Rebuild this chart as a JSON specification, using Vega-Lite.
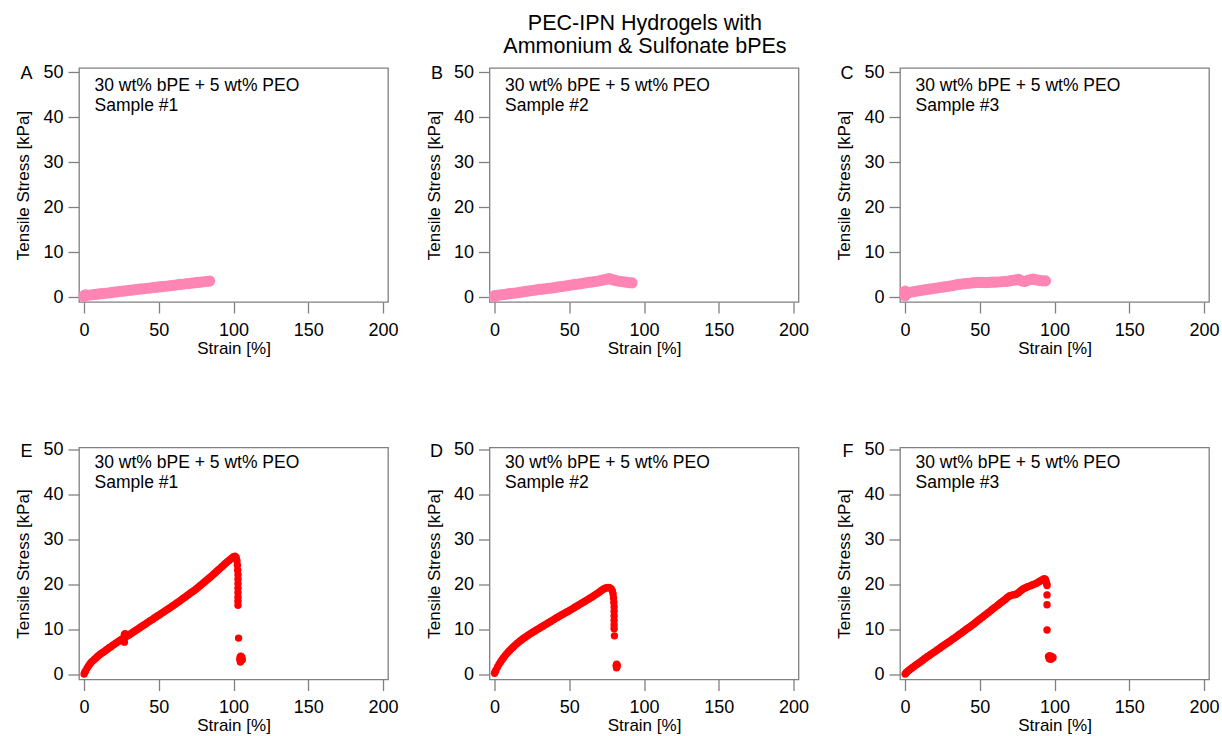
{
"$schema": "https://vega.github.io/schema/vega-lite/v6.json",
"background": "white",
"padding": {"top": 12, "left": 14, "right": 2, "bottom": 2},
"title": {"text": ["PEC-IPN Hydrogels with", "Ammonium & Sulfonate bPEs"], "fontSize": 21.5, "fontWeight": "normal", "font": "Liberation Sans", "color": "black", "anchor": "middle", "dx": 28, "lineHeight": 23, "offset": 5},
"config": {
  "font": "Liberation Sans",
  "view": {"stroke": "#808080", "strokeWidth": 1.3},
  "axis": {"domain": false, "grid": false, "tickColor": "#808080", "tickSize": 11, "tickWidth": 1.3, "labelFont": "Liberation Sans", "labelFontSize": 18, "labelColor": "black", "labelFlush": false, "labelOverlap": false, "titleFont": "Liberation Sans", "titleFontSize": 17, "titleFontWeight": "normal", "titleColor": "black"},
  "axisX": {"labelPadding": 8, "titlePadding": 1},
  "axisY": {"labelPadding": 5, "titlePadding": 10},
  "text": {"font": "Liberation Sans", "color": "black"}
},
"datasets": {
  "A": [{"strain":0,"stress":0.3},{"strain":0,"stress":0.1},{"strain":1,"stress":0.5},{"strain":2,"stress":0.4},{"strain":4,"stress":0.45},{"strain":6,"stress":0.55},{"strain":8,"stress":0.6},{"strain":10,"stress":0.7},{"strain":12,"stress":0.75},{"strain":14,"stress":0.85},{"strain":16,"stress":0.9},{"strain":18,"stress":1.0},{"strain":20,"stress":1.1},{"strain":22,"stress":1.15},{"strain":24,"stress":1.25},{"strain":26,"stress":1.3},{"strain":28,"stress":1.4},{"strain":30,"stress":1.5},{"strain":32,"stress":1.55},{"strain":34,"stress":1.65},{"strain":36,"stress":1.7},{"strain":38,"stress":1.8},{"strain":40,"stress":1.85},{"strain":42,"stress":1.95},{"strain":44,"stress":2.0},{"strain":46,"stress":2.1},{"strain":48,"stress":2.15},{"strain":50,"stress":2.25},{"strain":52,"stress":2.3},{"strain":54,"stress":2.4},{"strain":56,"stress":2.45},{"strain":58,"stress":2.55},{"strain":60,"stress":2.6},{"strain":62,"stress":2.7},{"strain":64,"stress":2.8},{"strain":66,"stress":2.85},{"strain":68,"stress":2.95},{"strain":70,"stress":3.0},{"strain":72,"stress":3.1},{"strain":74,"stress":3.15},{"strain":76,"stress":3.25},{"strain":78,"stress":3.3},{"strain":80,"stress":3.4},{"strain":82,"stress":3.45},{"strain":84,"stress":3.55}],
  "B": [{"strain":0,"stress":0.3},{"strain":0,"stress":0.1},{"strain":2,"stress":0.4},{"strain":4,"stress":0.5},{"strain":6,"stress":0.55},{"strain":8,"stress":0.65},{"strain":10,"stress":0.75},{"strain":12,"stress":0.85},{"strain":14,"stress":0.9},{"strain":16,"stress":1.0},{"strain":18,"stress":1.1},{"strain":20,"stress":1.2},{"strain":22,"stress":1.3},{"strain":24,"stress":1.4},{"strain":26,"stress":1.5},{"strain":28,"stress":1.6},{"strain":30,"stress":1.7},{"strain":32,"stress":1.75},{"strain":34,"stress":1.85},{"strain":36,"stress":1.95},{"strain":38,"stress":2.0},{"strain":40,"stress":2.1},{"strain":42,"stress":2.2},{"strain":44,"stress":2.3},{"strain":46,"stress":2.4},{"strain":48,"stress":2.5},{"strain":50,"stress":2.6},{"strain":52,"stress":2.7},{"strain":54,"stress":2.8},{"strain":56,"stress":2.9},{"strain":58,"stress":3.0},{"strain":60,"stress":3.1},{"strain":62,"stress":3.2},{"strain":64,"stress":3.3},{"strain":66,"stress":3.4},{"strain":68,"stress":3.5},{"strain":70,"stress":3.6},{"strain":72,"stress":3.75},{"strain":74,"stress":3.9},{"strain":76,"stress":4.05},{"strain":77,"stress":4.1},{"strain":78,"stress":3.95},{"strain":80,"stress":3.75},{"strain":82,"stress":3.6},{"strain":84,"stress":3.5},{"strain":86,"stress":3.4},{"strain":88,"stress":3.3},{"strain":90,"stress":3.2},{"strain":92,"stress":3.15}],
  "C": [{"strain":0,"stress":0.3},{"strain":0,"stress":0.8},{"strain":0,"stress":1.3},{"strain":1,"stress":1.0},{"strain":2,"stress":1.0},{"strain":4,"stress":1.1},{"strain":6,"stress":1.2},{"strain":8,"stress":1.35},{"strain":10,"stress":1.45},{"strain":12,"stress":1.55},{"strain":14,"stress":1.65},{"strain":16,"stress":1.75},{"strain":18,"stress":1.85},{"strain":20,"stress":1.95},{"strain":22,"stress":2.05},{"strain":24,"stress":2.15},{"strain":26,"stress":2.25},{"strain":28,"stress":2.35},{"strain":30,"stress":2.45},{"strain":32,"stress":2.55},{"strain":34,"stress":2.7},{"strain":36,"stress":2.8},{"strain":38,"stress":2.9},{"strain":40,"stress":3.0},{"strain":42,"stress":3.05},{"strain":44,"stress":3.1},{"strain":46,"stress":3.2},{"strain":48,"stress":3.25},{"strain":50,"stress":3.25},{"strain":52,"stress":3.25},{"strain":54,"stress":3.2},{"strain":56,"stress":3.25},{"strain":58,"stress":3.3},{"strain":60,"stress":3.3},{"strain":62,"stress":3.35},{"strain":64,"stress":3.4},{"strain":66,"stress":3.45},{"strain":68,"stress":3.5},{"strain":70,"stress":3.6},{"strain":72,"stress":3.7},{"strain":74,"stress":3.8},{"strain":76,"stress":3.95},{"strain":78,"stress":3.6},{"strain":80,"stress":3.45},{"strain":82,"stress":3.7},{"strain":84,"stress":3.9},{"strain":86,"stress":4.0},{"strain":88,"stress":3.8},{"strain":90,"stress":3.7},{"strain":92,"stress":3.6},{"strain":94,"stress":3.6}],
  "E": [{"strain":0,"stress":0.1},{"strain":0.5,"stress":0.5},{"strain":1,"stress":0.8},{"strain":2,"stress":1.4},{"strain":3,"stress":1.9},{"strain":4,"stress":2.4},{"strain":5,"stress":2.8},{"strain":6,"stress":3.1},{"strain":7,"stress":3.4},{"strain":8,"stress":3.7},{"strain":9,"stress":4.0},{"strain":10,"stress":4.3},{"strain":11,"stress":4.55},{"strain":12,"stress":4.8},{"strain":13,"stress":5.0},{"strain":14,"stress":5.25},{"strain":15,"stress":5.5},{"strain":16,"stress":5.75},{"strain":17,"stress":6.0},{"strain":18,"stress":6.2},{"strain":19,"stress":6.45},{"strain":20,"stress":6.7},{"strain":21,"stress":6.9},{"strain":22,"stress":7.15},{"strain":23,"stress":7.35},{"strain":24,"stress":7.6},{"strain":25,"stress":7.8},{"strain":26,"stress":8.0},{"strain":27,"stress":7.2},{"strain":27,"stress":8.2},{"strain":27,"stress":8.9},{"strain":27.5,"stress":9.1},{"strain":28,"stress":8.4},{"strain":29,"stress":8.6},{"strain":30,"stress":8.8},{"strain":31,"stress":9.0},{"strain":32,"stress":9.25},{"strain":33,"stress":9.45},{"strain":34,"stress":9.7},{"strain":35,"stress":9.9},{"strain":36,"stress":10.1},{"strain":37,"stress":10.35},{"strain":38,"stress":10.55},{"strain":39,"stress":10.8},{"strain":40,"stress":11.0},{"strain":41,"stress":11.2},{"strain":42,"stress":11.45},{"strain":43,"stress":11.65},{"strain":44,"stress":11.9},{"strain":45,"stress":12.1},{"strain":46,"stress":12.3},{"strain":47,"stress":12.55},{"strain":48,"stress":12.75},{"strain":49,"stress":13.0},{"strain":50,"stress":13.2},{"strain":51,"stress":13.4},{"strain":52,"stress":13.65},{"strain":53,"stress":13.85},{"strain":54,"stress":14.1},{"strain":55,"stress":14.3},{"strain":56,"stress":14.5},{"strain":57,"stress":14.75},{"strain":58,"stress":14.95},{"strain":59,"stress":15.2},{"strain":60,"stress":15.4},{"strain":61,"stress":15.65},{"strain":62,"stress":15.9},{"strain":63,"stress":16.1},{"strain":64,"stress":16.35},{"strain":65,"stress":16.6},{"strain":66,"stress":16.85},{"strain":67,"stress":17.1},{"strain":68,"stress":17.3},{"strain":69,"stress":17.55},{"strain":70,"stress":17.8},{"strain":71,"stress":18.05},{"strain":72,"stress":18.3},{"strain":73,"stress":18.5},{"strain":74,"stress":18.75},{"strain":75,"stress":19.0},{"strain":76,"stress":19.3},{"strain":77,"stress":19.55},{"strain":78,"stress":19.85},{"strain":79,"stress":20.1},{"strain":80,"stress":20.4},{"strain":81,"stress":20.7},{"strain":82,"stress":20.95},{"strain":83,"stress":21.25},{"strain":84,"stress":21.5},{"strain":85,"stress":21.8},{"strain":86,"stress":22.1},{"strain":87,"stress":22.4},{"strain":88,"stress":22.7},{"strain":89,"stress":23.0},{"strain":90,"stress":23.3},{"strain":91,"stress":23.6},{"strain":92,"stress":23.9},{"strain":93,"stress":24.2},{"strain":94,"stress":24.5},{"strain":95,"stress":24.8},{"strain":96,"stress":25.1},{"strain":97,"stress":25.35},{"strain":98,"stress":25.65},{"strain":99,"stress":25.9},{"strain":100,"stress":26.2},{"strain":101,"stress":26.3},{"strain":101.8,"stress":26.0},{"strain":102.3,"stress":25.3},{"strain":102.6,"stress":24.3},{"strain":102.8,"stress":23.2},{"strain":103,"stress":22.2},{"strain":103,"stress":21.2},{"strain":103,"stress":20.2},{"strain":103,"stress":19.2},{"strain":103,"stress":18.2},{"strain":103,"stress":17.2},{"strain":103,"stress":16.3},{"strain":103,"stress":15.4},{"strain":103.4,"stress":8.1},{"strain":104.2,"stress":3.4},{"strain":104.5,"stress":3.9},{"strain":104.8,"stress":3.0},{"strain":105,"stress":4.1},{"strain":105.3,"stress":3.5},{"strain":105.6,"stress":3.8},{"strain":105.9,"stress":3.3},{"strain":104.6,"stress":2.8}],
  "D": [{"strain":0,"stress":0.3},{"strain":0.5,"stress":0.7},{"strain":1,"stress":1.0},{"strain":2,"stress":1.7},{"strain":3,"stress":2.3},{"strain":4,"stress":2.8},{"strain":5,"stress":3.3},{"strain":6,"stress":3.75},{"strain":7,"stress":4.2},{"strain":8,"stress":4.6},{"strain":9,"stress":4.95},{"strain":10,"stress":5.3},{"strain":11,"stress":5.65},{"strain":12,"stress":5.95},{"strain":13,"stress":6.3},{"strain":14,"stress":6.6},{"strain":15,"stress":6.9},{"strain":16,"stress":7.15},{"strain":17,"stress":7.45},{"strain":18,"stress":7.7},{"strain":19,"stress":7.95},{"strain":20,"stress":8.2},{"strain":21,"stress":8.4},{"strain":22,"stress":8.65},{"strain":23,"stress":8.85},{"strain":24,"stress":9.1},{"strain":25,"stress":9.3},{"strain":26,"stress":9.5},{"strain":27,"stress":9.7},{"strain":28,"stress":9.9},{"strain":29,"stress":10.1},{"strain":30,"stress":10.3},{"strain":31,"stress":10.5},{"strain":32,"stress":10.7},{"strain":33,"stress":10.9},{"strain":34,"stress":11.1},{"strain":35,"stress":11.3},{"strain":36,"stress":11.5},{"strain":37,"stress":11.7},{"strain":38,"stress":11.9},{"strain":39,"stress":12.1},{"strain":40,"stress":12.3},{"strain":41,"stress":12.5},{"strain":42,"stress":12.7},{"strain":43,"stress":12.9},{"strain":44,"stress":13.1},{"strain":45,"stress":13.3},{"strain":46,"stress":13.45},{"strain":47,"stress":13.65},{"strain":48,"stress":13.85},{"strain":49,"stress":14.0},{"strain":50,"stress":14.2},{"strain":51,"stress":14.4},{"strain":52,"stress":14.6},{"strain":53,"stress":14.8},{"strain":54,"stress":15.0},{"strain":55,"stress":15.2},{"strain":56,"stress":15.4},{"strain":57,"stress":15.6},{"strain":58,"stress":15.8},{"strain":59,"stress":16.0},{"strain":60,"stress":16.2},{"strain":61,"stress":16.4},{"strain":62,"stress":16.6},{"strain":63,"stress":16.8},{"strain":64,"stress":17.0},{"strain":65,"stress":17.2},{"strain":66,"stress":17.4},{"strain":67,"stress":17.65},{"strain":68,"stress":17.85},{"strain":69,"stress":18.05},{"strain":70,"stress":18.3},{"strain":71,"stress":18.55},{"strain":72,"stress":18.8},{"strain":73,"stress":19.0},{"strain":74,"stress":19.2},{"strain":75,"stress":19.3},{"strain":76,"stress":19.35},{"strain":77,"stress":19.3},{"strain":78,"stress":19.1},{"strain":78.8,"stress":18.6},{"strain":79.3,"stress":17.9},{"strain":79.6,"stress":17.0},{"strain":79.8,"stress":16.0},{"strain":80,"stress":15.0},{"strain":80,"stress":14.0},{"strain":80,"stress":13.0},{"strain":80,"stress":12.0},{"strain":80,"stress":11.0},{"strain":80,"stress":10.2},{"strain":80.2,"stress":8.6},{"strain":81.4,"stress":2.0},{"strain":81.8,"stress":1.7},{"strain":82.1,"stress":2.0},{"strain":81.7,"stress":2.3},{"strain":81.6,"stress":1.5}],
  "F": [{"strain":0,"stress":0.1},{"strain":0.5,"stress":0.3},{"strain":1,"stress":0.5},{"strain":2,"stress":0.8},{"strain":3,"stress":1.05},{"strain":4,"stress":1.3},{"strain":5,"stress":1.55},{"strain":6,"stress":1.8},{"strain":7,"stress":2.05},{"strain":8,"stress":2.3},{"strain":9,"stress":2.5},{"strain":10,"stress":2.75},{"strain":11,"stress":3.0},{"strain":12,"stress":3.25},{"strain":13,"stress":3.5},{"strain":14,"stress":3.75},{"strain":15,"stress":4.0},{"strain":16,"stress":4.2},{"strain":17,"stress":4.45},{"strain":18,"stress":4.65},{"strain":19,"stress":4.9},{"strain":20,"stress":5.1},{"strain":21,"stress":5.35},{"strain":22,"stress":5.6},{"strain":23,"stress":5.8},{"strain":24,"stress":6.05},{"strain":25,"stress":6.3},{"strain":26,"stress":6.5},{"strain":27,"stress":6.75},{"strain":28,"stress":6.95},{"strain":29,"stress":7.2},{"strain":30,"stress":7.4},{"strain":31,"stress":7.65},{"strain":32,"stress":7.9},{"strain":33,"stress":8.1},{"strain":34,"stress":8.35},{"strain":35,"stress":8.6},{"strain":36,"stress":8.85},{"strain":37,"stress":9.1},{"strain":38,"stress":9.3},{"strain":39,"stress":9.55},{"strain":40,"stress":9.8},{"strain":41,"stress":10.05},{"strain":42,"stress":10.3},{"strain":43,"stress":10.5},{"strain":44,"stress":10.75},{"strain":45,"stress":11.0},{"strain":46,"stress":11.25},{"strain":47,"stress":11.5},{"strain":48,"stress":11.8},{"strain":49,"stress":12.05},{"strain":50,"stress":12.3},{"strain":51,"stress":12.55},{"strain":52,"stress":12.8},{"strain":53,"stress":13.1},{"strain":54,"stress":13.35},{"strain":55,"stress":13.6},{"strain":56,"stress":13.85},{"strain":57,"stress":14.1},{"strain":58,"stress":14.4},{"strain":59,"stress":14.65},{"strain":60,"stress":14.9},{"strain":61,"stress":15.15},{"strain":62,"stress":15.4},{"strain":63,"stress":15.7},{"strain":64,"stress":15.95},{"strain":65,"stress":16.2},{"strain":66,"stress":16.45},{"strain":67,"stress":16.7},{"strain":68,"stress":17.0},{"strain":69,"stress":17.25},{"strain":70,"stress":17.5},{"strain":71,"stress":17.6},{"strain":72,"stress":17.7},{"strain":73,"stress":17.75},{"strain":74,"stress":17.8},{"strain":75,"stress":18.0},{"strain":76,"stress":18.2},{"strain":77,"stress":18.5},{"strain":78,"stress":18.8},{"strain":79,"stress":19.0},{"strain":80,"stress":19.2},{"strain":81,"stress":19.35},{"strain":82,"stress":19.5},{"strain":83,"stress":19.6},{"strain":84,"stress":19.75},{"strain":85,"stress":19.9},{"strain":86,"stress":20.0},{"strain":87,"stress":20.15},{"strain":88,"stress":20.3},{"strain":89,"stress":20.5},{"strain":90,"stress":20.7},{"strain":91,"stress":20.9},{"strain":92,"stress":21.1},{"strain":93,"stress":21.3},{"strain":93.8,"stress":21.2},{"strain":94.4,"stress":20.7},{"strain":94.8,"stress":20.2},{"strain":95,"stress":19.8},{"strain":95,"stress":17.7},{"strain":95,"stress":15.5},{"strain":95,"stress":9.9},{"strain":96,"stress":4.0},{"strain":96.5,"stress":3.5},{"strain":97,"stress":3.8},{"strain":97.5,"stress":3.4},{"strain":98,"stress":4.0},{"strain":98.5,"stress":3.6},{"strain":99,"stress":3.8},{"strain":96.8,"stress":4.2}]
},
"vconcat": [
 {"hconcat": [
  {"width": 309, "height": 234, "layer": [
   {"data": {"name": "A"}, "mark": {"type": "circle", "color": "#FF85B5", "size": 125, "opacity": 1},
    "encoding": {"x": {"field": "strain", "type": "quantitative", "scale": {"domain": [-3.4, 203.4], "nice": false, "zero": false}, "axis": {"title": "Strain [%]", "values": [0, 50, 100, 150, 200]}},
                 "y": {"field": "stress", "type": "quantitative", "scale": {"domain": [-1.1, 50.9], "nice": false, "zero": false}, "axis": {"title": "Tensile Stress [kPa]", "values": [0, 10, 20, 30, 40, 50]}}}},
   {"data": {"values": [{}]}, "mark": {"type": "text", "text": ["30 wt% bPE + 5 wt% PEO", "Sample #1"], "align": "left", "baseline": "alphabetic", "fontSize": 17.5, "lineHeight": 20.5}, "encoding": {"x": {"datum": 7}, "y": {"datum": 45.9}}},
   {"data": {"values": [{}]}, "mark": {"type": "text", "text": "A", "align": "right", "baseline": "middle", "fontSize": 18, "dy": 2}, "encoding": {"x": {"datum": -34.5}, "y": {"datum": 50}}}
  ]},
  {"width": 309, "height": 234, "layer": [
   {"data": {"name": "B"}, "mark": {"type": "circle", "color": "#FF85B5", "size": 125, "opacity": 1},
    "encoding": {"x": {"field": "strain", "type": "quantitative", "scale": {"domain": [-3.4, 203.4], "nice": false, "zero": false}, "axis": {"title": "Strain [%]", "values": [0, 50, 100, 150, 200]}},
                 "y": {"field": "stress", "type": "quantitative", "scale": {"domain": [-1.1, 50.9], "nice": false, "zero": false}, "axis": {"title": "Tensile Stress [kPa]", "values": [0, 10, 20, 30, 40, 50]}}}},
   {"data": {"values": [{}]}, "mark": {"type": "text", "text": ["30 wt% bPE + 5 wt% PEO", "Sample #2"], "align": "left", "baseline": "alphabetic", "fontSize": 17.5, "lineHeight": 20.5}, "encoding": {"x": {"datum": 7}, "y": {"datum": 45.9}}},
   {"data": {"values": [{}]}, "mark": {"type": "text", "text": "B", "align": "right", "baseline": "middle", "fontSize": 18, "dy": 2}, "encoding": {"x": {"datum": -34.5}, "y": {"datum": 50}}}
  ]},
  {"width": 309, "height": 234, "layer": [
   {"data": {"name": "C"}, "mark": {"type": "circle", "color": "#FF85B5", "size": 125, "opacity": 1},
    "encoding": {"x": {"field": "strain", "type": "quantitative", "scale": {"domain": [-3.4, 203.4], "nice": false, "zero": false}, "axis": {"title": "Strain [%]", "values": [0, 50, 100, 150, 200]}},
                 "y": {"field": "stress", "type": "quantitative", "scale": {"domain": [-1.1, 50.9], "nice": false, "zero": false}, "axis": {"title": "Tensile Stress [kPa]", "values": [0, 10, 20, 30, 40, 50]}}}},
   {"data": {"values": [{}]}, "mark": {"type": "text", "text": ["30 wt% bPE + 5 wt% PEO", "Sample #3"], "align": "left", "baseline": "alphabetic", "fontSize": 17.5, "lineHeight": 20.5}, "encoding": {"x": {"datum": 7}, "y": {"datum": 45.9}}},
   {"data": {"values": [{}]}, "mark": {"type": "text", "text": "C", "align": "right", "baseline": "middle", "fontSize": 18, "dy": 2}, "encoding": {"x": {"datum": -34.5}, "y": {"datum": 50}}}
  ]}
 ], "spacing": 25.5},
 {"hconcat": [
  {"width": 309, "height": 232, "layer": [
   {"data": {"name": "E"}, "mark": {"type": "circle", "color": "#FF0000", "size": 55, "opacity": 1},
    "encoding": {"x": {"field": "strain", "type": "quantitative", "scale": {"domain": [-3.4, 203.4], "nice": false, "zero": false}, "axis": {"title": "Strain [%]", "values": [0, 50, 100, 150, 200]}},
                 "y": {"field": "stress", "type": "quantitative", "scale": {"domain": [-1.1, 50.45], "nice": false, "zero": false}, "axis": {"title": "Tensile Stress [kPa]", "values": [0, 10, 20, 30, 40, 50]}}}},
   {"data": {"values": [{}]}, "mark": {"type": "text", "text": ["30 wt% bPE + 5 wt% PEO", "Sample #1"], "align": "left", "baseline": "alphabetic", "fontSize": 17.5, "lineHeight": 20.5}, "encoding": {"x": {"datum": 7}, "y": {"datum": 45.9}}},
   {"data": {"values": [{}]}, "mark": {"type": "text", "text": "E", "align": "right", "baseline": "middle", "fontSize": 18, "dy": 2}, "encoding": {"x": {"datum": -34.5}, "y": {"datum": 50}}}
  ]},
  {"width": 309, "height": 232, "layer": [
   {"data": {"name": "D"}, "mark": {"type": "circle", "color": "#FF0000", "size": 55, "opacity": 1},
    "encoding": {"x": {"field": "strain", "type": "quantitative", "scale": {"domain": [-3.4, 203.4], "nice": false, "zero": false}, "axis": {"title": "Strain [%]", "values": [0, 50, 100, 150, 200]}},
                 "y": {"field": "stress", "type": "quantitative", "scale": {"domain": [-1.1, 50.45], "nice": false, "zero": false}, "axis": {"title": "Tensile Stress [kPa]", "values": [0, 10, 20, 30, 40, 50]}}}},
   {"data": {"values": [{}]}, "mark": {"type": "text", "text": ["30 wt% bPE + 5 wt% PEO", "Sample #2"], "align": "left", "baseline": "alphabetic", "fontSize": 17.5, "lineHeight": 20.5}, "encoding": {"x": {"datum": 7}, "y": {"datum": 45.9}}},
   {"data": {"values": [{}]}, "mark": {"type": "text", "text": "D", "align": "right", "baseline": "middle", "fontSize": 18, "dy": 2}, "encoding": {"x": {"datum": -34.5}, "y": {"datum": 50}}}
  ]},
  {"width": 309, "height": 232, "layer": [
   {"data": {"name": "F"}, "mark": {"type": "circle", "color": "#FF0000", "size": 55, "opacity": 1},
    "encoding": {"x": {"field": "strain", "type": "quantitative", "scale": {"domain": [-3.4, 203.4], "nice": false, "zero": false}, "axis": {"title": "Strain [%]", "values": [0, 50, 100, 150, 200]}},
                 "y": {"field": "stress", "type": "quantitative", "scale": {"domain": [-1.1, 50.45], "nice": false, "zero": false}, "axis": {"title": "Tensile Stress [kPa]", "values": [0, 10, 20, 30, 40, 50]}}}},
   {"data": {"values": [{}]}, "mark": {"type": "text", "text": ["30 wt% bPE + 5 wt% PEO", "Sample #3"], "align": "left", "baseline": "alphabetic", "fontSize": 17.5, "lineHeight": 20.5}, "encoding": {"x": {"datum": 7}, "y": {"datum": 45.9}}},
   {"data": {"values": [{}]}, "mark": {"type": "text", "text": "F", "align": "right", "baseline": "middle", "fontSize": 18, "dy": 2}, "encoding": {"x": {"datum": -34.5}, "y": {"datum": 50}}}
  ]}
 ], "spacing": 25.5}
],
"spacing": 82.5
}
